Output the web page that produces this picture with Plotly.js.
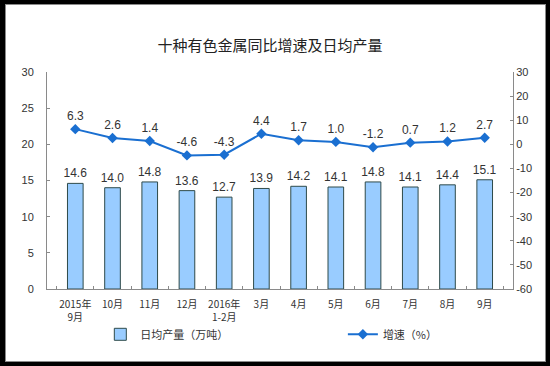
<!DOCTYPE html>
<html><head><meta charset="utf-8">
<script src="https://cdn.plot.ly/plotly-3.0.1.min.js"></script>
<style>
html,body{margin:0;padding:0;background:#000;width:550px;height:366px;overflow:hidden;}
#frame{position:absolute;left:5px;top:4px;width:541px;height:358px;box-sizing:border-box;border:1px solid #8a8a8a;background:#fff;}
#chart{position:absolute;left:0;top:0;width:539px;height:356px;}
</style></head>
<body><div id="frame"><div id="chart"></div></div>
<script>
const categories = ["2015年<br>9月","10月","11月","12月","2016年<br>1-2月","3月","4月","5月","6月","7月","8月","9月"];
const dailyOutput = [14.6,14.0,14.8,13.6,12.7,13.9,14.2,14.1,14.8,14.1,14.4,15.1];
const growth = [6.3,2.6,1.4,-4.6,-4.3,4.4,1.7,1.0,-1.2,0.7,1.2,2.7];
const leftTicks = [0,5,10,15,20,25,30];
const rightTicks = [-60,-50,-40,-30,-20,-10,0,10,20,30];

const font = "Liberation Sans, Arial, 'Noto Sans CJK SC', sans-serif";
const cjk = "'Noto Sans CJK SC', 'Liberation Sans', sans-serif";

const traces = [
  {type:'bar', x:categories, y:dailyOutput, name:'日均产量（万吨）', legend:'legend',
   marker:{color:'#99CCFF', line:{color:'#2E4A4A', width:1}},
   text:dailyOutput.map(v=>v.toFixed(1)), textposition:'outside', cliponaxis:false, constraintext:'none',
   textfont:{family:font, size:12, color:'#333'}},
  {type:'scatter', mode:'lines+markers+text', x:categories, y:growth, yaxis:'y2', name:'增速（%）', legend:'legend2',
   line:{color:'#1A6FD1', width:2}, marker:{symbol:'diamond', size:8, color:'#1A6FD1'},
   text:growth.map(v=>v.toFixed(1)), textposition:'top center', cliponaxis:false,
   textfont:{family:font, size:12, color:'#333'}}
];

const legBase = {orientation:'h', xref:'container', yref:'container', xanchor:'left', y:0.075, yanchor:'middle',
  bgcolor:'rgba(0,0,0,0)', font:{family:cjk, size:11, color:'#333'}, itemwidth:30};

const layout = {
  width:539, height:356,
  margin:{l:41, r:32, t:67, b:72},
  paper_bgcolor:'#fff', plot_bgcolor:'#fff',
  title:{text:'十种有色金属同比增速及日均产量', x:0.49, xanchor:'center', y:0.885, yanchor:'middle',
         font:{family:cjk, size:15, color:'#222'}},
  bargap:0.58,
  showlegend:true,
  legend:Object.assign({}, legBase, {x:0.175}),
  legend2:Object.assign({}, legBase, {x:0.625}),
  xaxis:{type:'category', showline:true, linecolor:'#8a8a8a', linewidth:1, tickangle:0, automargin:false,
         ticks:'inside', tickson:'boundaries', ticklen:3, tickcolor:'#8a8a8a', ticklabelstandoff:6,
         tickfont:{family:cjk, size:10, color:'#333'}, showgrid:false, zeroline:false},
  yaxis:{range:[0,30], tickvals:leftTicks, showline:true, linecolor:'#8a8a8a', linewidth:1,
         ticks:'inside', ticklen:3, tickcolor:'#8a8a8a', showgrid:false, zeroline:false, automargin:false,
         tickfont:{family:font, size:11, color:'#333'}, ticklabelstandoff:10},
  yaxis2:{range:[-60,30], tickvals:rightTicks, ticktext:rightTicks.map(String), overlaying:'y', side:'right', showline:true,
          linecolor:'#8a8a8a', linewidth:1, ticks:'inside', ticklen:3, tickcolor:'#8a8a8a', automargin:false,
          showgrid:false, zeroline:false, tickfont:{family:font, size:11, color:'#333'}}
};
Plotly.newPlot('chart', traces, layout, {displayModeBar:false, staticPlot:true});
</script></body></html>
